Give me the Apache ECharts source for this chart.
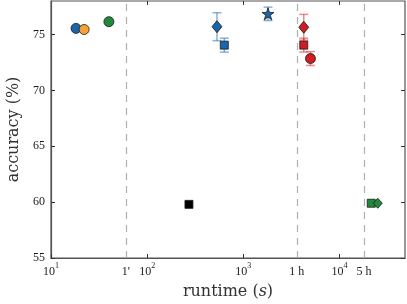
<!DOCTYPE html>
<html><head><meta charset="utf-8">
<script src="https://cdn.jsdelivr.net/npm/echarts@6/dist/echarts.min.js"></script>
<style>html,body{margin:0;padding:0;background:#fff}#c{width:407px;height:304px}</style>
</head><body><div id="c"></div>
<script>
// ---- data ----
const methods   = ['A','B','C','D','E','F','G','H','I','J','K','L'];
const runtime   = [18.2, 22.1, 40, 272, 532, 634, 1806, 4250, 4250, 4990, 21400, 25000];
const accuracy  = [75.55, 75.45, 76.15, 59.8, 75.7, 74.05, 76.85, 75.65, 74.05, 72.85, 59.9, 59.9];
const errors    = [0, 0, 0, 0, 1.25, 0.62, 0.6, 1.15, 0.62, 0.62, 0, 0];
const xTickValues = [10, 60, 100, 1000, 3600, 10000, 18000];
const xTickLabels = ['10^1', "1'", '10^2', '10^3', '1 h', '10^4', '5 h'];
const markerLines = [60, 3600, 18000];
const yTicks = [55, 60, 65, 70, 75];

// ---- styles ----
const C = {blue:'#1a66ab', orange:'#f7a134', green:'#22883c', red:'#cf1d24', black:'#000'};
const starPath = 'path://M50,0 L61.8,35.1 L98.9,35.1 L68.8,56.9 L80.3,92.1 L50,70.4 L19.7,92.1 L31.2,56.9 L1.1,35.1 L38.2,35.1 Z';
const styles = [
  {c:C.blue, s:'circle', z:10},
  {c:C.orange, s:'circle', z:10},
  {c:C.green, s:'circle', z:10},
  {c:C.black, s:'rect', z:8},
  {c:C.blue, s:'diamond', z:[10,12]},
  {c:C.blue, s:'rect', z:8},
  {c:C.blue, s:starPath, z:12},
  {c:C.red, s:'diamond', z:[10,12]},
  {c:C.red, s:'rect', z:8},
  {c:C.red, s:'circle', z:10},
  {c:C.green, s:'rect', z:8},
  {c:C.green, s:'diamond', z:[9,10]}
];
const errColor = {[C.blue]:'rgba(26,102,171,0.5)', [C.red]:'rgba(207,29,36,0.5)'};

const serif = 'Liberation Serif';
const nameFont = 'DejaVu Serif';
const axisColor = '#555';

function fmtX(v){
  const i = xTickValues.indexOf(v);
  if (i < 0) return '';
  const t = xTickLabels[i];
  if (t.startsWith('10^')) return '{b|10}{s|' + t.slice(3) + '}';
  return '{b|' + t + '}';
}

const chart = echarts.init(document.getElementById('c'), null, {renderer:'canvas'});

const errData = [];
methods.forEach((m,i)=>{ if (errors[i] > 0) errData.push([runtime[i], accuracy[i], errors[i], i]); });

const series = [];
series.push({
  type:'scatter', data:[], silent:true,
  markLine:{silent:true, symbol:['none','none'], label:{show:false},
    lineStyle:{color:'#b0b0b0', type:[7,6], width:1.2},
    data: markerLines.map(v=>({xAxis:v}))}
});
series.push({
  type:'custom', silent:true, z:3,
  data: errData,
  renderItem: function(params, api){
    const x = api.value(0), y = api.value(1), e = api.value(2), idx = api.value(3);
    const top = api.coord([x, y + e]), bot = api.coord([x, y - e]);
    const col = errColor[styles[idx].c];
    const w = 4.5;
    return {type:'group', children:[
      {type:'line', shape:{x1:top[0],y1:top[1],x2:bot[0],y2:bot[1]}, style:{stroke:col, lineWidth:1.5}},
      {type:'line', shape:{x1:top[0]-w,y1:top[1],x2:top[0]+w,y2:top[1]}, style:{stroke:col, lineWidth:1.5}},
      {type:'line', shape:{x1:bot[0]-w,y1:bot[1],x2:bot[0]+w,y2:bot[1]}, style:{stroke:col, lineWidth:1.5}}
    ]};
  }
});
methods.forEach((m,i)=>{
  const st = styles[i];
  series.push({
    type:'scatter', name:m, z:5,
    symbol: st.s, symbolSize: st.z,
    itemStyle:{color:st.c, borderColor:'#1a1a1a', borderWidth:0.8, opacity:1},
    data:[[runtime[i], accuracy[i]]]
  });
});

chart.setOption({
  animation:false,
  grid:{left:51, right:2, top:1, bottom:46, show:true, borderColor:axisColor, borderWidth:1.2, outerBoundsMode:'none', containLabel:false},
  xAxis:[{
    type:'log', logBase:10, min:10, max:48000,
    axisLine:{show:true, lineStyle:{color:axisColor, width:1.2}},
    axisTick:{show:true, inside:true, length:4, lineStyle:{color:'#333'}, customValues:[10,100,1000,10000]},
    minorTick:{show:false}, splitLine:{show:false},
    axisLabel:{customValues:xTickValues, formatter:fmtX, margin:4, color:'#222',
      rich:{b:{fontFamily:serif, fontSize:12, color:'#222', lineHeight:16, verticalAlign:'bottom'},
            s:{fontFamily:serif, fontSize:8, color:'#222', lineHeight:9, verticalAlign:'top'}}},
    name:'{r|runtime (}{i|s}{r|)}', nameLocation:'middle', nameGap:26,
    nameTextStyle:{rich:{r:{fontFamily:nameFont, fontSize:16, color:'#333'}, i:{fontFamily:nameFont, fontStyle:'italic', fontSize:16, color:'#333'}}}
  },{
    type:'log', logBase:10, min:10, max:48000, position:'top',
    axisLine:{show:false},
    axisTick:{show:true, inside:true, length:4, lineStyle:{color:'#333'}, customValues:[100,1000,10000]},
    axisLabel:{show:false}, splitLine:{show:false}
  }],
  yAxis:[{
    type:'value', min:55, max:78, interval:5,
    axisLine:{show:true, lineStyle:{color:axisColor, width:1.2}},
    axisTick:{show:true, inside:true, length:4, lineStyle:{color:'#333'}, customValues:yTicks},
    splitLine:{show:false},
    axisLabel:{customValues:yTicks, fontFamily:serif, fontSize:12, color:'#222', margin:6},
    name:'accuracy (%)', nameLocation:'middle', nameGap:29,
    nameTextStyle:{fontFamily:nameFont, fontSize:16, color:'#333'}
  },{
    type:'value', min:55, max:78, interval:5, position:'right',
    axisLine:{show:false},
    axisTick:{show:true, inside:true, length:4, lineStyle:{color:'#333'}, customValues:yTicks},
    axisLabel:{show:false}, splitLine:{show:false}
  }],
  series: series
});
</script></body></html>
